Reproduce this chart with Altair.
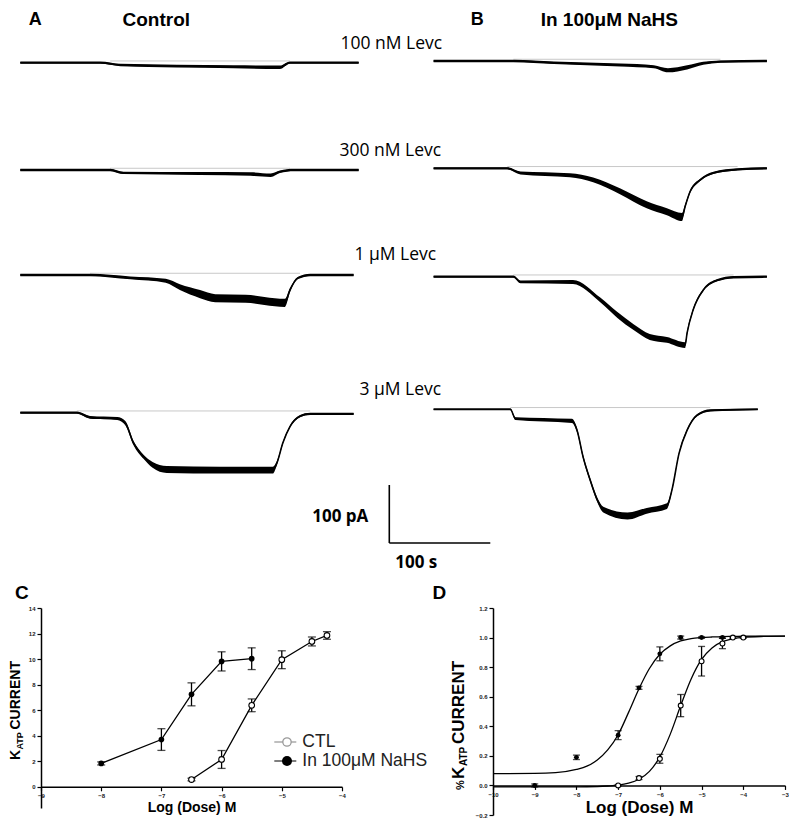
import altair as alt
import pandas as pd

# ---------------- Panels A / B : current traces ----------------
# time (s from start of trace), current (pA relative to baseline), noise half-width (pA)
A1_t = [0, 79, 99, 211, 257, 267, 335]
A1_i = [0, 0, -4, -7, -8, 0, 0]
A1_n = [2, 2, 2, 2.5, 3, 2, 2]
A2_t = [0, 89, 102, 178, 228, 248, 257, 271, 335]
A2_i = [0, 0, -5, -6, -7, -9, -3, 0, 0]
A2_n = [2, 2, 2, 2.5, 3, 3, 2, 2, 2]
A3_t = [0, 69, 109, 144, 158, 178, 193, 223, 252, 262, 267, 275, 287, 330]
A3_i = [0, 0, -5, -10, -21, -33, -40, -41, -47, -48, -26, -5, 0, 0]
A3_n = [2, 2, 2.5, 3.5, 5, 7, 7, 7, 7, 7, 3.5, 2, 2, 2]
A4_t = [0, 56, 69, 96, 104, 112, 122, 131, 145, 198, 250, 254, 260, 267, 277, 287, 330]
A4_i = [0, 0, -8, -10, -18, -52, -76, -90, -98, -99, -99, -87, -52, -24, -6, -2, -2]
A4_n = [2, 2, 2.5, 2.5, 3.5, 3.5, 3.5, 5, 6, 6, 6, 3.5, 2, 2, 2, 2, 2]
B1_t = [0, 79, 119, 185, 218, 232, 251, 267, 284, 330]
B1_i = [0, 0, -3, -7, -10, -16, -11, -4, -1, 0]
B1_n = [2, 2, 2, 2.5, 2.5, 3.5, 3.5, 2.5, 2, 2]
B2_t = [0, 73, 86, 135, 158, 185, 211, 231, 246, 249, 254, 264, 277, 301, 330]
B2_i = [0, 0, -8, -12, -20, -40, -63, -75, -84, -66, -40, -20, -8, -2, 0]
B2_n = [2, 2, 2.5, 3.5, 4, 5, 6, 6, 7, 3.5, 2.5, 2, 2, 2, 2]
B3_t = [0, 79, 86, 138, 165, 182, 198, 214, 231, 249, 251, 257, 267, 281, 297, 330]
B3_i = [0, 0, -9, -9, -40, -66, -87, -104, -109, -118, -97, -57, -23, -6, -1, 0]
B3_n = [2, 2, 2.5, 3.5, 4, 5, 5, 5, 5, 5, 3.5, 2.5, 2, 2, 2, 2]
B4_t = [0, 76, 81, 137, 142, 148, 155, 162, 168, 192, 211, 231, 236, 243, 251, 261, 274, 321]
B4_i = [0, 0, -16, -20, -36, -82, -122, -156, -173, -184, -175, -167, -139, -76, -36, -10, -2, 0]
B4_n = [1.5, 1.5, 2.5, 3.5, 3.5, 3.5, 3.5, 4, 5, 6, 5, 5, 2.5, 2, 2, 2, 2, 1.5]

# span of the thin grey zero-current reference line of each trace (s)
GREY_SPAN = {"A1": (89, 267), "A2": (89, 267), "A3": (69, 277), "A4": (56, 287),
             "B1": (79, 284), "B2": (73, 301), "B3": (79, 297), "B4": (76, 274)}

TRACE_LABELS = ["100 nM Levc", "300 nM Levc", "1 \u03bcM Levc", "3 \u03bcM Levc"]
SCALE_PA = 100
SCALE_S = 100

# ---------------- Panel C ----------------
C_ctl_x = [-6.5, -6, -5.5, -5, -4.5, -4.25]
C_ctl_y = [0.57, 2.14, 6.38, 9.95, 11.38, 11.85]
C_ctl_e = [0.1, 0.7, 0.5, 0.7, 0.35, 0.3]
C_nahs_x = [-8, -7, -6.5, -6, -5.5]
C_nahs_y = [1.83, 3.7, 7.24, 9.82, 10.03]
C_nahs_e = [0.12, 0.85, 0.9, 0.75, 0.85]
C_xticks = [-9, -8, -7, -6, -5, -4]
C_yticks = [0, 2, 4, 6, 8, 10, 12, 14]

# ---------------- Panel D ----------------
D_ctl_x = [-7, -6.5, -6, -5.5, -5, -4.5, -4.25, -4]
D_ctl_y = [0.0, 0.05, 0.18, 0.54, 0.84, 0.96, 1.0, 1.0]
D_ctl_e = [0.005, 0.01, 0.03, 0.075, 0.1, 0.035, 0.005, 0.005]
D_nahs_x = [-9, -8, -7, -6.5, -6, -5.5, -5, -4.5]
D_nahs_y = [0.0, 0.19, 0.34, 0.66, 0.89, 1.0, 1.0, 1.0]
D_nahs_e = [0.01, 0.015, 0.03, 0.01, 0.047, 0.01, 0.005, 0.005]
# fitted curves
D_fit_x = [-10, -9, -8.5, -8, -7.75, -7.5, -7.25, -7, -6.75, -6.5, -6.25, -6, -5.75,
           -5.5, -5.25, -5, -4.75, -4.5, -4.25, -4, -3.5, -3]
D_fit_nahs = [0.08, 0.081, 0.086, 0.108, 0.13, 0.172, 0.24, 0.343, 0.494, 0.654, 0.791,
              0.887, 0.944, 0.977, 0.993, 1.0, 1.004, 1.007, 1.008, 1.009, 1.01, 1.01]
D_fit_ctl = [-0.01, -0.01, -0.01, -0.0095, -0.009, -0.0075, -0.004, 0.0015, 0.015, 0.042,
             0.095, 0.193, 0.347, 0.54, 0.72, 0.852, 0.93, 0.972, 0.992, 1.002, 1.008, 1.01]
D_xticks = [-10, -9, -8, -7, -6, -5, -4, -3]
D_yticks = [-0.2, 0.0, 0.2, 0.4, 0.6, 0.8, 1.0, 1.2]

# ---------------- layout (pixels) ----------------
FONT = "Liberation Sans"
TFONT = "Open Sans"
PX_PER_S = 1.01
PX_PER_PA = 0.58
ORIGIN_X, ORIGIN_Y = 40.7, 8.0          # page position of the layout origin
TOP_W, TOP_H = 740, 600
COL_START = {"A": 20.0, "B": 433.3}
ROW_BASE = {"A": [62.7, 170.0, 275.0, 412.7], "B": [61.0, 168.3, 276.7, 409.3]}
C_W, C_H = 301, 200
D_W, D_H = 292, 207
C_YDOM = [-1.66, 14]
D_YDOM = [-0.2, 1.2]


def sx(px):
    return (px - ORIGIN_X) / PX_PER_S


def sy(py):
    return -(py - ORIGIN_Y) / PX_PER_PA


def rx(px):
    return px - ORIGIN_X


def ry(py):
    return py - ORIGIN_Y


def label(text, x, y, size, bold=False, font=FONT, align="center", baseline="middle",
          angle=0, color="black"):
    mk = dict(font=font, fontSize=size, fontWeight="bold" if bold else "normal",
              align=align, baseline=baseline, color=color)
    if angle:
        mk["angle"] = angle
    return alt.Chart(alt.Data(values=[{"label": text}])).mark_text(**mk).encode(
        x=alt.value(x), y=alt.value(y), text="label:N")


# ---------------- build top (A / B) ----------------
traces = {
    "A1": (A1_t, A1_i, A1_n), "A2": (A2_t, A2_i, A2_n), "A3": (A3_t, A3_i, A3_n),
    "A4": (A4_t, A4_i, A4_n), "B1": (B1_t, B1_i, B1_n), "B2": (B2_t, B2_i, B2_n),
    "B3": (B3_t, B3_i, B3_n), "B4": (B4_t, B4_i, B4_n),
}
rows, grey = [], []
for name, (ts, cur, nz) in traces.items():
    col, r = name[0], int(name[1]) - 1
    x0 = sx(COL_START[col])
    y0 = sy(ROW_BASE[col][r])
    for t, i, n in zip(ts, cur, nz):
        rows.append({"trace": name, "x": x0 + t, "y": y0 + i, "lo": y0 + i - n, "hi": y0 + i + n})
    g0, g1 = GREY_SPAN[name]
    grey.append({"x": x0 + g0, "x2": x0 + g1, "y": y0 + 3})
tr = pd.DataFrame(rows)
gr = pd.DataFrame(grey)

XS = alt.Scale(domain=[0, TOP_W / PX_PER_S], nice=False, zero=False)
YS = alt.Scale(domain=[-TOP_H / PX_PER_PA, 0], nice=False, zero=False)

grey_layer = alt.Chart(gr).mark_rule(color="#c8c8c8", strokeWidth=1).encode(
    x=alt.X("x:Q", scale=XS, axis=None), x2="x2:Q", y=alt.Y("y:Q", scale=YS, axis=None))
band = alt.Chart(tr).mark_area(color="black", interpolate="monotone").encode(
    x=alt.X("x:Q", scale=XS, axis=None), y=alt.Y("lo:Q", scale=YS, axis=None), y2="hi:Q",
    detail="trace:N")
line = alt.Chart(tr).mark_line(color="black", strokeWidth=1.6, interpolate="monotone").encode(
    x=alt.X("x:Q", scale=XS, axis=None), y=alt.Y("y:Q", scale=YS, axis=None), detail="trace:N")

sb_x, sb_y = sx(389), sy(485)
sbar = pd.DataFrame([
    {"x": sb_x, "x2": sb_x, "y": sb_y, "y2": sb_y - SCALE_PA},
    {"x": sb_x, "x2": sb_x + SCALE_S, "y": sb_y - SCALE_PA, "y2": sb_y - SCALE_PA},
])
sbar_layer = alt.Chart(sbar).mark_rule(color="black", strokeWidth=1.6).encode(
    x=alt.X("x:Q", scale=XS, axis=None), x2="x2:Q",
    y=alt.Y("y:Q", scale=YS, axis=None), y2="y2:Q")

HEAD_Y = 12
top_texts = [
    label("A", rx(35), HEAD_Y, 18, bold=True),
    label("Control", rx(156), HEAD_Y, 19, bold=True),
    label("B", rx(477), HEAD_Y, 18, bold=True),
    label("In 100\u03bcM NaHS", rx(609), HEAD_Y, 19, bold=True),
    label(TRACE_LABELS[0], rx(391), ry(44), 17.5, font=TFONT),
    label(TRACE_LABELS[1], rx(390), ry(151), 17.5, font=TFONT),
    label(TRACE_LABELS[2], rx(395), ry(255), 17.5, font=TFONT),
    label(TRACE_LABELS[3], rx(400), ry(390), 17.5, font=TFONT),
    label("100 pA", rx(340), ry(517), 17, bold=True, font=TFONT),
    label("100 s", rx(416), ry(563), 17, bold=True, font=TFONT),
    label("C", rx(21.5), ry(593), 19, bold=True),
    label("D", rx(439), ry(593), 19, bold=True),
]
top = alt.layer(grey_layer, band, line, sbar_layer, *top_texts).properties(
    width=TOP_W, height=TOP_H)


# ---------------- dose-response panels ----------------
def axis(values, offset=0, title=None, tsize=14, fmt=None):
    kw = dict(values=values, grid=False, domainColor="black", domainWidth=1.5,
              tickColor="black", tickWidth=1.2, tickSize=4, labelFont=FONT,
              labelFontWeight="bold", labelFontSize=6, labelColor="#222",
              labelPadding=2, labelFlush=False, labelOverlap=False, title=title)
    if offset:
        kw["offset"] = offset
    if fmt:
        kw["format"] = fmt
    if title:
        kw.update(titleFont=FONT, titleFontWeight="bold", titleFontSize=tsize,
                  titleColor="black", titlePadding=2)
    return alt.Axis(**kw)


def panel(ctl, nahs, xdom, ydom, xticks, yticks, w, h, xtitle, tsize, yfmt, cap,
          msize, fits=None):
    ppu = h / (ydom[1] - ydom[0])
    ax_x = axis(xticks, offset=-(0 - ydom[0]) * ppu, title=xtitle, tsize=tsize)
    ax_y = axis(yticks, fmt=yfmt)
    xs = alt.Scale(domain=xdom, nice=False, zero=False)
    ys = alt.Scale(domain=ydom, nice=False, zero=False)

    def X(f="x"):
        return alt.X(f + ":Q", scale=xs, axis=ax_x)

    def Y(f="y"):
        return alt.Y(f + ":Q", scale=ys, axis=ax_y)

    layers = []
    if fits is not None:
        fx, fa, fb = fits
        fdf = pd.DataFrame({"x": fx * 2, "y": fa + fb, "s": ["n"] * len(fx) + ["c"] * len(fx)})
        layers.append(alt.Chart(fdf).mark_line(color="black", strokeWidth=1.3,
                                               interpolate="monotone").encode(
            x=X(), y=Y(), detail="s:N"))
    for (xs_, ys_, es_), filled in ((nahs, True), (ctl, False)):
        df = pd.DataFrame({"x": xs_, "y": ys_, "lo": [a - b for a, b in zip(ys_, es_)],
                           "hi": [a + b for a, b in zip(ys_, es_)]})
        if fits is None:
            layers.append(alt.Chart(df).mark_line(color="black", strokeWidth=1.3).encode(
                x=X(), y=Y()))
        layers.append(alt.Chart(df).mark_rule(color="black", strokeWidth=1.3).encode(
            x=X(), y=Y("lo"), y2="hi:Q"))
        for f in ("lo", "hi"):
            layers.append(alt.Chart(df).mark_tick(color="black", orient="horizontal",
                                                  size=cap, thickness=1.3).encode(
                x=X(), y=Y(f)))
        if filled:
            layers.append(alt.Chart(df).mark_point(shape="circle", filled=True, color="black",
                                                   size=msize, opacity=1).encode(x=X(), y=Y()))
        else:
            layers.append(alt.Chart(df).mark_point(shape="circle", filled=True, fill="white",
                                                   stroke="black", strokeWidth=1.1,
                                                   size=msize, opacity=1).encode(x=X(), y=Y()))
    return layers


c_layers = panel((C_ctl_x, C_ctl_y, C_ctl_e), (C_nahs_x, C_nahs_y, C_nahs_e), [-9, -4],
                 C_YDOM, C_xticks, C_yticks, C_W, C_H, "Log (Dose) M", 14, None, 8, 32)
# C: y title with subscript, and legend (positions relative to C plot area)
cx0, cy0 = 40.7, 608.0
c_layers += [
    label("K", -25, 152, 14, bold=True, align="left", angle=270),
    label("ATP", -21, 141.5, 9, bold=True, align="left", angle=270),
    label("CURRENT", -25, 121.5, 14, bold=True, align="left", angle=270),
    alt.Chart(alt.Data(values=[{}])).mark_rule(color="#aaaaaa", strokeWidth=1.5).encode(
        x=alt.value(274 - cx0), x2=alt.value(296 - cx0), y=alt.value(742 - cy0)),
    alt.Chart(alt.Data(values=[{}])).mark_point(shape="circle", filled=True, fill="white",
                                                stroke="#999999", strokeWidth=1.3, size=70,
                                                opacity=1).encode(
        x=alt.value(286.7 - cx0), y=alt.value(742 - cy0)),
    label("CTL", 302 - cx0, 742 - cy0, 17.5, align="left", color="#222"),
    alt.Chart(alt.Data(values=[{}])).mark_rule(color="#555555", strokeWidth=1.5).encode(
        x=alt.value(274 - cx0), x2=alt.value(296 - cx0), y=alt.value(761 - cy0)),
    alt.Chart(alt.Data(values=[{}])).mark_point(shape="circle", filled=True, color="black",
                                                size=100, opacity=1).encode(
        x=alt.value(286.7 - cx0), y=alt.value(761 - cy0)),
    label("In 100\u03bcM NaHS", 302 - cx0, 761 - cy0, 17.5, align="left", color="#222"),
]
C = alt.layer(*c_layers).properties(width=C_W, height=C_H)

d_layers = panel((D_ctl_x, D_ctl_y, D_ctl_e), (D_nahs_x, D_nahs_y, D_nahs_e), [-10, -3],
                 D_YDOM, D_xticks, D_yticks, D_W, D_H, "Log (Dose) M", 17, ".1f", 7, 24,
                 fits=(D_fit_x, D_fit_nahs, D_fit_ctl))
dy0 = 608.0
d_layers += [
    label("%", -31.7, 790 - dy0, 11, bold=True, align="left", angle=270),
    label("K", -33.7, 779 - dy0, 17, bold=True, align="left", angle=270),
    label("ATP", -28.7, 766 - dy0, 10, bold=True, align="left", angle=270),
    label("CURRENT", -33.7, 744 - dy0, 17, bold=True, align="left", angle=270),
]
D = alt.layer(*d_layers).properties(width=D_W, height=D_H)

row2 = alt.hconcat(C, D, spacing=452 - C_W, bounds="flush")
chart = alt.vconcat(top, row2, spacing=0, bounds="flush").properties(
    padding=0, background="white").configure_view(stroke=None)

chart.save("out.html", embed_options={"renderer": "svg", "actions": False})
